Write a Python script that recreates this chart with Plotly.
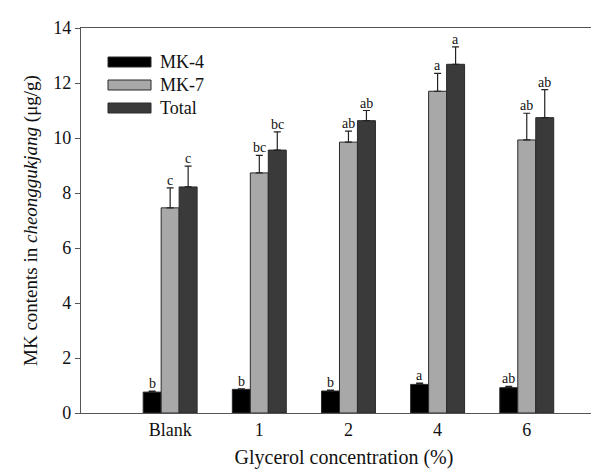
import plotly.graph_objects as go

categories = ["Blank", "1", "2", "4", "6"]
mk4 = [0.76, 0.86, 0.80, 1.04, 0.92]
mk4_err = [0.04, 0.02, 0.03, 0.05, 0.05]
mk7 = [7.46, 8.73, 9.85, 11.70, 9.93]
mk7_err = [0.73, 0.64, 0.40, 0.65, 0.97]
total = [8.22, 9.56, 10.63, 12.68, 10.74]
total_err = [0.76, 0.66, 0.37, 0.63, 1.02]
mk4_letters = ["b", "b", "b", "a", "ab"]
mk7_letters = ["c", "bc", "ab", "a", "ab"]
total_letters = ["c", "bc", "ab", "a", "ab"]
series_names = ["MK-4", "MK-7", "Total"]
colors = ["#000000", "#a8a8a8", "#3a3a3a"]

FONT = "Liberation Serif, Times New Roman, serif"
series = [(mk4, mk4_err, mk4_letters), (mk7, mk7_err, mk7_letters), (total, total_err, total_letters)]

fig = go.Figure()
for (vals, errs, _), name, col in zip(series, series_names, colors):
    fig.add_trace(go.Bar(
        x=categories, y=vals, name=name,
        marker=dict(color=col, line=dict(color="#2a2a2a", width=1)),
        error_y=dict(type="data", symmetric=False, array=errs, arrayminus=[0] * len(errs),
                     color="#222222", thickness=1.2, width=3.5),
        showlegend=False,
    ))

annotations = []
offsets = [-18, 0, 18]
for (vals, errs, letters), dx in zip(series, offsets):
    for i, (v, e, t) in enumerate(zip(vals, errs, letters)):
        annotations.append(dict(x=i, y=v + e, xref="x", yref="y", text=t, showarrow=False,
                                xshift=dx, yanchor="bottom", yshift=-2,
                                font=dict(family=FONT, size=14, color="#111")))

# legend drawn in paper coordinates
W, H = 599, 470
L, R, T, B = 73, 0, 20, 65
pw, ph = W - L - R, H - T - B
def px(x):
    return (x - L) / pw
def py(y):
    return 1 - (y - T) / ph
shapes = []
for i, (name, col) in enumerate(zip(series_names, colors)):
    yc = 54 + i * 23
    shapes.append(dict(type="rect", xref="paper", yref="paper",
                       x0=px(100), x1=px(143), y0=py(yc + 5), y1=py(yc - 5),
                       fillcolor=col, line=dict(color="#2a2a2a", width=1)))
    annotations.append(dict(x=px(150), y=py(yc), xref="paper", yref="paper", text=name,
                            showarrow=False, xanchor="left", yanchor="middle",
                            font=dict(family=FONT, size=18, color="#111")))

fig.update_layout(
    width=W, height=H,
    margin=dict(l=L, r=R, t=T, b=B),
    paper_bgcolor="white", plot_bgcolor="white",
    barmode="group", bargap=0.395, bargroupgap=0,
    font=dict(family=FONT, size=18, color="#111"),
    shapes=shapes, annotations=annotations,
    xaxis=dict(type="category", range=[-1, 4.9], showline=True, linecolor="#555", linewidth=1.3, mirror=True,
               ticks="", showgrid=False, zeroline=False,
               title=dict(text="Glycerol concentration (%)", font=dict(family=FONT, size=20), standoff=11),
               tickfont=dict(family=FONT, size=18)),
    yaxis=dict(range=[0, 14], dtick=2, showline=True, linecolor="#555", linewidth=1.3,
               ticks="outside", ticklen=5, tickcolor="#555", showgrid=False, zeroline=False,
               title=dict(text="MK contents in <i>cheonggukjang</i> (μg/g)", font=dict(family=FONT, size=19), standoff=10),
               tickfont=dict(family=FONT, size=18)),
)
fig.write_html("out.html")
